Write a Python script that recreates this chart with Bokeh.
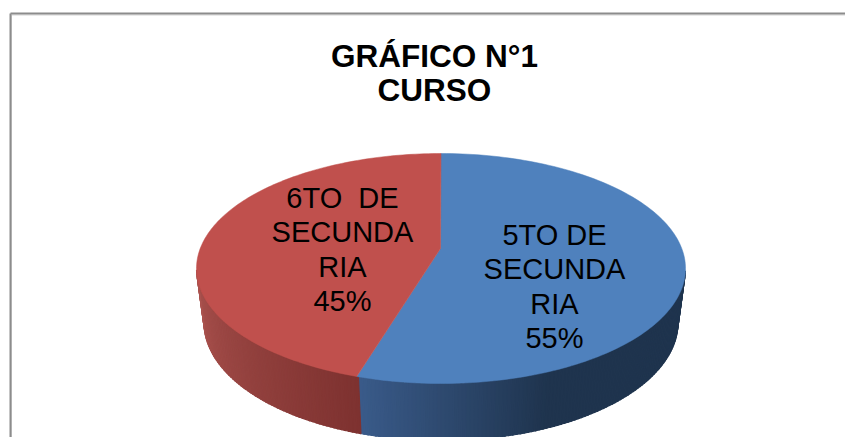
import math
from bokeh.plotting import figure
from bokeh.embed import file_html
from bokeh.resources import INLINE
from bokeh.models import Range1d
from bokeh.core.properties import value

# --- chart data ---
categories = ["5TO DE\nSECUNDA\nRIA", "6TO\u00a0 DE\nSECUNDA\nRIA"]
shares = [55.6, 44.4]
percent_labels = ["55%", "45%"]
title_lines = "GRÁFICO N°1\nCURSO"
top_colors = ["#4F81BD", "#C0504D"]

W, H = 845, 437

CX, CY, RX, RY = 440.5, 268, 244.5, 115
APEX_X, APEX_Y = 440, 248
BCY, BRX, BRY = 322, 237, 118

p = figure(width=W, height=H, output_backend="svg", toolbar_location=None,
           x_range=Range1d(0, W), y_range=Range1d(H, 0), min_border=0)
p.axis.visible = False
p.grid.visible = False
p.outline_line_color = None
p.background_fill_color = "white"
p.border_fill_color = "white"

# chart frame
p.segment(x0=[11, 11], y0=[14.5, 14.5], x1=[W, 11], y1=[14.5, H], line_color="#d4d4d4", line_width=1)
p.segment(x0=[10, 10], y0=[13, 13], x1=[W, 10], y1=[13, H], line_color="#8c8c8c", line_width=2)


def angles():
    """Clockwise angles from 12 o'clock for each slice, from the shares."""
    total = sum(shares)
    out, a = [], 0.0
    for s in shares:
        b = a + s / total * 2 * math.pi
        out.append((a, b))
        a = b
    return out


def pt(t, cx, cy, rx, ry):
    return cx + rx * math.sin(t), cy - ry * math.cos(t)


def mix(c0, c1, f):
    return "#%02x%02x%02x" % tuple(round(a + (b - a) * f) for a, b in zip(c0, c1))


slices = angles()
N = 180
RED_WALL = ((170, 82, 78), (126, 50, 48))
BLUE_WALL = ((58, 91, 138), (31, 52, 78))

# walls: thin vertical strips along the front half of the rim
t0, t1 = math.pi / 2 + 0.02, 3 * math.pi / 2 - 0.02
bx, by, bc = [], [], []
split = slices[0][1]
for i in range(N):
    a = t0 + (t1 - t0) * i / N
    b = t0 + (t1 - t0) * (i + 1) / N + 0.006
    x0, y0 = pt(a, CX, CY, RX, RY)
    x1, y1 = pt(b, CX, CY, RX, RY)
    x2, y2 = pt(b, CX, BCY, BRX, BRY)
    x3, y3 = pt(a, CX, BCY, BRX, BRY)
    mid = (a + b) / 2
    if mid < split:
        f = min(1.0, (split - mid) / 0.8)
        col = mix(*BLUE_WALL, f)
    else:
        f = min(1.0, (mid - split) / (t1 - split))
        col = mix(RED_WALL[1], RED_WALL[0], f)
    bx.append([x0, x1, x2, x3])
    by.append([y0, y1, y2, y3])
    bc.append(col)
p.patches(xs=bx, ys=by, fill_color=bc, line_color=bc, line_width=1.2)

# top faces
xs, ys = [], []
for a, b in slices:
    n = 160
    ring = [pt(a + (b - a) * i / n, CX, CY, RX, RY) for i in range(n + 1)]
    xs.append([APEX_X] + [q[0] for q in ring])
    ys.append([APEX_Y] + [q[1] for q in ring])
p.patches(xs=xs, ys=ys, fill_color=top_colors, line_color=top_colors, line_width=0.5)

# slice labels
label_x = [554, 342]
label_y = [286, 249]
texts = [f"{c}\n{s}" for c, s in zip(categories, percent_labels)]
p.text(x=label_x, y=label_y, text=texts, text_font=value("Liberation Sans"),
       text_font_size="29px", text_color="black", text_align="center",
       text_baseline="middle", text_line_height=1.07)

# title
p.text(x=[434], y=[72.5], text=[title_lines], text_font=value("Liberation Sans"),
       text_font_style="bold", text_font_size="31.5px", text_color="black",
       text_align="center", text_baseline="middle", text_line_height=0.96)

open("out.html", "w").write(file_html(p, INLINE))
